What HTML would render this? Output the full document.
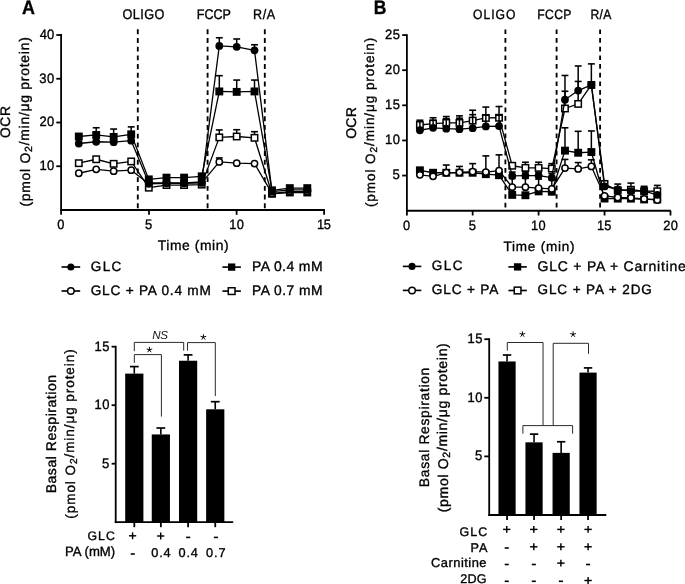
<!DOCTYPE html>
<html><head><meta charset="utf-8"><style>
html,body{margin:0;padding:0;background:#fff;overflow:hidden;}
svg{display:block;filter:grayscale(1);}
text{font-family:"Liberation Sans", sans-serif;text-rendering:geometricPrecision;}
</style></head><body>
<svg width="685" height="584" viewBox="0 0 685 584" font-family='"Liberation Sans", sans-serif' text-rendering="geometricPrecision">
<rect width="685" height="584" fill="#fff"/>
<g stroke="#000" fill="none">
<line x1="137.8" y1="29.3" x2="137.8" y2="209.1" stroke-width="1.85" stroke-dasharray="4.9 3.8"/>
<line x1="207.6" y1="29.3" x2="207.6" y2="209.1" stroke-width="1.85" stroke-dasharray="4.9 3.8"/>
<line x1="264.8" y1="29.3" x2="264.8" y2="209.1" stroke-width="1.85" stroke-dasharray="4.9 3.8"/>
<line x1="61.1" y1="34.1" x2="61.1" y2="214.8" stroke-width="1.8" />
<line x1="60.2" y1="210" x2="325" y2="210" stroke-width="1.8" />
<line x1="56.3" y1="166.25" x2="61.1" y2="166.25" stroke-width="1.8" />
<line x1="56.3" y1="122.5" x2="61.1" y2="122.5" stroke-width="1.8" />
<line x1="56.3" y1="78.75" x2="61.1" y2="78.75" stroke-width="1.8" />
<line x1="56.3" y1="35" x2="61.1" y2="35" stroke-width="1.8" />
<line x1="149" y1="210" x2="149" y2="214.8" stroke-width="1.8" />
<line x1="236.6" y1="210" x2="236.6" y2="214.8" stroke-width="1.8" />
<line x1="324.1" y1="210" x2="324.1" y2="214.8" stroke-width="1.8" />
</g>
<g stroke="#000">
<line x1="219.3" y1="137.38" x2="219.3" y2="129.94" stroke-width="1.5" />
<line x1="215.85" y1="129.94" x2="222.75" y2="129.94" stroke-width="1.6" />
<line x1="236.7" y1="136.5" x2="236.7" y2="129.72" stroke-width="1.5" />
<line x1="233.25" y1="129.72" x2="240.15" y2="129.72" stroke-width="1.6" />
<line x1="254.5" y1="137.81" x2="254.5" y2="131.69" stroke-width="1.5" />
<line x1="251.05" y1="131.69" x2="257.95" y2="131.69" stroke-width="1.6" />
<polyline points="78.8,163.19 96.2,159.25 113.65,163.8 131.2,161.44 148.8,187.69 166.5,185.06 184.1,185.06 201.7,184.62 219.3,137.38 236.7,136.5 254.5,137.81 272,193.81 289.8,192.5 307.3,192.5" fill="none" stroke="#000" stroke-width="1.3" stroke-linejoin="round"/>
<rect x="75.6" y="159.99" width="6.4" height="6.4" fill="#fff" stroke="#000" stroke-width="1.5"/>
<rect x="93" y="156.05" width="6.4" height="6.4" fill="#fff" stroke="#000" stroke-width="1.5"/>
<rect x="110.45" y="160.6" width="6.4" height="6.4" fill="#fff" stroke="#000" stroke-width="1.5"/>
<rect x="128" y="158.24" width="6.4" height="6.4" fill="#fff" stroke="#000" stroke-width="1.5"/>
<rect x="145.6" y="184.49" width="6.4" height="6.4" fill="#fff" stroke="#000" stroke-width="1.5"/>
<rect x="163.3" y="181.86" width="6.4" height="6.4" fill="#fff" stroke="#000" stroke-width="1.5"/>
<rect x="180.9" y="181.86" width="6.4" height="6.4" fill="#fff" stroke="#000" stroke-width="1.5"/>
<rect x="198.5" y="181.43" width="6.4" height="6.4" fill="#fff" stroke="#000" stroke-width="1.5"/>
<rect x="216.1" y="134.18" width="6.4" height="6.4" fill="#fff" stroke="#000" stroke-width="1.5"/>
<rect x="233.5" y="133.3" width="6.4" height="6.4" fill="#fff" stroke="#000" stroke-width="1.5"/>
<rect x="251.3" y="134.61" width="6.4" height="6.4" fill="#fff" stroke="#000" stroke-width="1.5"/>
<rect x="268.8" y="190.61" width="6.4" height="6.4" fill="#fff" stroke="#000" stroke-width="1.5"/>
<rect x="286.6" y="189.3" width="6.4" height="6.4" fill="#fff" stroke="#000" stroke-width="1.5"/>
<rect x="304.1" y="189.3" width="6.4" height="6.4" fill="#fff" stroke="#000" stroke-width="1.5"/>
<line x1="96.2" y1="134.97" x2="96.2" y2="127.75" stroke-width="1.5" />
<line x1="92.75" y1="127.75" x2="99.65" y2="127.75" stroke-width="1.6" />
<line x1="113.65" y1="136.94" x2="113.65" y2="129.06" stroke-width="1.5" />
<line x1="110.2" y1="129.06" x2="117.1" y2="129.06" stroke-width="1.6" />
<line x1="131.2" y1="134.31" x2="131.2" y2="126.88" stroke-width="1.5" />
<line x1="127.75" y1="126.88" x2="134.65" y2="126.88" stroke-width="1.6" />
<line x1="219.3" y1="91.44" x2="219.3" y2="75.69" stroke-width="1.5" />
<line x1="215.85" y1="75.69" x2="222.75" y2="75.69" stroke-width="1.6" />
<line x1="236.7" y1="91.88" x2="236.7" y2="80.06" stroke-width="1.5" />
<line x1="233.25" y1="80.06" x2="240.15" y2="80.06" stroke-width="1.6" />
<line x1="254.5" y1="91.44" x2="254.5" y2="80.06" stroke-width="1.5" />
<line x1="251.05" y1="80.06" x2="257.95" y2="80.06" stroke-width="1.6" />
<polyline points="78.8,136.5 96.2,134.97 113.65,136.94 131.2,134.31 148.8,179.38 166.5,177.62 184.1,177.62 201.7,176.31 219.3,91.44 236.7,91.88 254.5,91.44 272,190.31 289.8,188.12 307.3,188.12" fill="none" stroke="#000" stroke-width="1.3" stroke-linejoin="round"/>
<rect x="74.85" y="132.55" width="7.9" height="7.9" fill="#000" stroke="none"/>
<rect x="92.25" y="131.02" width="7.9" height="7.9" fill="#000" stroke="none"/>
<rect x="109.7" y="132.99" width="7.9" height="7.9" fill="#000" stroke="none"/>
<rect x="127.25" y="130.36" width="7.9" height="7.9" fill="#000" stroke="none"/>
<rect x="144.85" y="175.43" width="7.9" height="7.9" fill="#000" stroke="none"/>
<rect x="162.55" y="173.68" width="7.9" height="7.9" fill="#000" stroke="none"/>
<rect x="180.15" y="173.68" width="7.9" height="7.9" fill="#000" stroke="none"/>
<rect x="197.75" y="172.36" width="7.9" height="7.9" fill="#000" stroke="none"/>
<rect x="215.35" y="87.49" width="7.9" height="7.9" fill="#000" stroke="none"/>
<rect x="232.75" y="87.92" width="7.9" height="7.9" fill="#000" stroke="none"/>
<rect x="250.55" y="87.49" width="7.9" height="7.9" fill="#000" stroke="none"/>
<rect x="268.05" y="186.36" width="7.9" height="7.9" fill="#000" stroke="none"/>
<rect x="285.85" y="184.18" width="7.9" height="7.9" fill="#000" stroke="none"/>
<rect x="303.35" y="184.18" width="7.9" height="7.9" fill="#000" stroke="none"/>
<line x1="219.3" y1="161.88" x2="219.3" y2="157.94" stroke-width="1.5" />
<line x1="215.85" y1="157.94" x2="222.75" y2="157.94" stroke-width="1.6" />
<polyline points="78.8,173.25 96.2,169.31 113.65,171.19 131.2,170.19 148.8,183.75 166.5,183.31 184.1,183.31 201.7,182.88 219.3,161.88 236.7,163.19 254.5,163.62 272,193.38 289.8,191.62 307.3,191.62" fill="none" stroke="#000" stroke-width="1.3" stroke-linejoin="round"/>
<circle cx="78.8" cy="173.25" r="3.15" fill="#fff" stroke="#000" stroke-width="1.5"/>
<circle cx="96.2" cy="169.31" r="3.15" fill="#fff" stroke="#000" stroke-width="1.5"/>
<circle cx="113.65" cy="171.19" r="3.15" fill="#fff" stroke="#000" stroke-width="1.5"/>
<circle cx="131.2" cy="170.19" r="3.15" fill="#fff" stroke="#000" stroke-width="1.5"/>
<circle cx="148.8" cy="183.75" r="3.15" fill="#fff" stroke="#000" stroke-width="1.5"/>
<circle cx="166.5" cy="183.31" r="3.15" fill="#fff" stroke="#000" stroke-width="1.5"/>
<circle cx="184.1" cy="183.31" r="3.15" fill="#fff" stroke="#000" stroke-width="1.5"/>
<circle cx="201.7" cy="182.88" r="3.15" fill="#fff" stroke="#000" stroke-width="1.5"/>
<circle cx="219.3" cy="161.88" r="3.15" fill="#fff" stroke="#000" stroke-width="1.5"/>
<circle cx="236.7" cy="163.19" r="3.15" fill="#fff" stroke="#000" stroke-width="1.5"/>
<circle cx="254.5" cy="163.62" r="3.15" fill="#fff" stroke="#000" stroke-width="1.5"/>
<circle cx="272" cy="193.38" r="3.15" fill="#fff" stroke="#000" stroke-width="1.5"/>
<circle cx="289.8" cy="191.62" r="3.15" fill="#fff" stroke="#000" stroke-width="1.5"/>
<circle cx="307.3" cy="191.62" r="3.15" fill="#fff" stroke="#000" stroke-width="1.5"/>
<line x1="219.3" y1="45.94" x2="219.3" y2="37.76" stroke-width="1.5" />
<line x1="215.85" y1="37.76" x2="222.75" y2="37.76" stroke-width="1.6" />
<line x1="236.7" y1="46.81" x2="236.7" y2="38.98" stroke-width="1.5" />
<line x1="233.25" y1="38.98" x2="240.15" y2="38.98" stroke-width="1.6" />
<line x1="254.5" y1="50.31" x2="254.5" y2="44.76" stroke-width="1.5" />
<line x1="251.05" y1="44.76" x2="257.95" y2="44.76" stroke-width="1.6" />
<polyline points="78.8,143.5 96.2,141.75 113.65,142.19 131.2,140.66 148.8,182.88 166.5,182.88 184.1,182.88 201.7,182 219.3,45.94 236.7,46.81 254.5,50.31 272,191.62 289.8,189.88 307.3,189.88" fill="none" stroke="#000" stroke-width="1.3" stroke-linejoin="round"/>
<circle cx="78.8" cy="143.5" r="3.9" fill="#000" stroke="none"/>
<circle cx="96.2" cy="141.75" r="3.9" fill="#000" stroke="none"/>
<circle cx="113.65" cy="142.19" r="3.9" fill="#000" stroke="none"/>
<circle cx="131.2" cy="140.66" r="3.9" fill="#000" stroke="none"/>
<circle cx="148.8" cy="182.88" r="3.9" fill="#000" stroke="none"/>
<circle cx="166.5" cy="182.88" r="3.9" fill="#000" stroke="none"/>
<circle cx="184.1" cy="182.88" r="3.9" fill="#000" stroke="none"/>
<circle cx="201.7" cy="182" r="3.9" fill="#000" stroke="none"/>
<circle cx="219.3" cy="45.94" r="3.9" fill="#000" stroke="none"/>
<circle cx="236.7" cy="46.81" r="3.9" fill="#000" stroke="none"/>
<circle cx="254.5" cy="50.31" r="3.9" fill="#000" stroke="none"/>
<circle cx="272" cy="191.62" r="3.9" fill="#000" stroke="none"/>
<circle cx="289.8" cy="189.88" r="3.9" fill="#000" stroke="none"/>
<circle cx="307.3" cy="189.88" r="3.9" fill="#000" stroke="none"/>
</g>
<g fill="#000" stroke="#000" stroke-width="0.35">
<text x="22.00" y="13.62" font-size="19.50" textLength="12.95" lengthAdjust="spacingAndGlyphs" font-weight="bold" >A</text>
<text transform="translate(122.57,18.68) scale(0.900,1)" font-size="14.10" textLength="46.41" lengthAdjust="spacing" >OLIGO</text>
<text transform="translate(196.80,18.69) scale(0.900,1)" font-size="13.96" textLength="37.98" lengthAdjust="spacing" >FCCP</text>
<text transform="translate(253.10,18.69) scale(0.900,1)" font-size="13.96" textLength="24.46" lengthAdjust="spacing" >R/A</text>
<text x="157.80" y="249.92" font-size="13.83" textLength="70.78" lengthAdjust="spacing" >Time (min)</text>
<text transform="translate(10.34,138.08) rotate(-90)" font-size="13.81" textLength="32.05" lengthAdjust="spacing" >OCR</text>
<text transform="translate(29.65,206.58) rotate(-90)" font-size="13.95" textLength="169.39" lengthAdjust="spacing" >(pmol O<tspan font-size="75%" dy="0.22em">2</tspan><tspan dy="-0.22em">/min/μg protein)</tspan></text>
<text transform="translate(39.51,170.04) scale(0.950,1)" font-size="13.66" textLength="15.62" lengthAdjust="spacing" >10</text>
<text transform="translate(39.46,126.29) scale(0.950,1)" font-size="13.66" textLength="15.67" lengthAdjust="spacing" >20</text>
<text transform="translate(39.33,82.54) scale(0.950,1)" font-size="13.66" textLength="15.81" lengthAdjust="spacing" >30</text>
<text transform="translate(39.72,38.79) scale(0.950,1)" font-size="13.66" textLength="15.40" lengthAdjust="spacing" >40</text>
<text transform="translate(57.36,228.69) scale(0.950,1)" font-size="13.51" textLength="7.87" lengthAdjust="spacing" >0</text>
<text transform="translate(144.99,228.69) scale(0.950,1)" font-size="13.71" textLength="8.16" lengthAdjust="spacing" >5</text>
<text transform="translate(229.32,228.69) scale(0.950,1)" font-size="13.51" textLength="15.28" lengthAdjust="spacing" >10</text>
<text transform="translate(316.92,228.69) scale(0.950,1)" font-size="13.51" textLength="14.76" lengthAdjust="spacing" >15</text>
</g>
<g stroke="#000">
<line x1="61.5" y1="267" x2="80.2" y2="267" stroke-width="1.65" />
<circle cx="70.85" cy="267" r="3.55" fill="#000" stroke="none"/>
</g>
<g stroke="#000">
<line x1="61.5" y1="291" x2="80.2" y2="291" stroke-width="1.65" />
<circle cx="70.85" cy="291" r="3.25" fill="#fff" stroke="#000" stroke-width="1.5"/>
</g>
<g stroke="#000">
<line x1="222.4" y1="267.1" x2="240.9" y2="267.1" stroke-width="1.65" />
<rect x="228" y="263.45" width="7.3" height="7.3" fill="#000" stroke="none"/>
</g>
<g stroke="#000">
<line x1="222.4" y1="291.1" x2="240.9" y2="291.1" stroke-width="1.65" />
<rect x="228.3" y="287.75" width="6.7" height="6.7" fill="#fff" stroke="#000" stroke-width="1.5"/>
</g>
<g fill="#000" stroke="#000" stroke-width="0.35">
<text x="90.73" y="270.89" font-size="13.51" textLength="30.60" lengthAdjust="spacing" >GLC</text>
<text x="90.73" y="294.89" font-size="13.66" textLength="120.14" lengthAdjust="spacing" >GLC + PA 0.4 mM</text>
<text x="251.96" y="271.09" font-size="13.96" textLength="70.57" lengthAdjust="spacing" >PA 0.4 mM</text>
<text x="251.96" y="294.59" font-size="13.81" textLength="70.56" lengthAdjust="spacing" >PA 0.7 mM</text>
</g>
<g stroke="#000" fill="none">
<line x1="505.4" y1="29.4" x2="505.4" y2="209.8" stroke-width="1.85" stroke-dasharray="4.7 3.97"/>
<line x1="556.6" y1="29.4" x2="556.6" y2="209.8" stroke-width="1.85" stroke-dasharray="4.7 3.97"/>
<line x1="600.1" y1="29.4" x2="600.1" y2="209.8" stroke-width="1.85" stroke-dasharray="4.7 3.97"/>
<line x1="406.9" y1="34.17" x2="406.9" y2="215.5" stroke-width="1.8" />
<line x1="406" y1="210.75" x2="670.8" y2="210.75" stroke-width="1.8" />
<line x1="402.2" y1="175.57" x2="406.9" y2="175.57" stroke-width="1.8" />
<line x1="402.2" y1="140.45" x2="406.9" y2="140.45" stroke-width="1.8" />
<line x1="402.2" y1="105.32" x2="406.9" y2="105.32" stroke-width="1.8" />
<line x1="402.2" y1="70.2" x2="406.9" y2="70.2" stroke-width="1.8" />
<line x1="402.2" y1="35.07" x2="406.9" y2="35.07" stroke-width="1.8" />
<line x1="472.65" y1="210.75" x2="472.65" y2="215.5" stroke-width="1.8" />
<line x1="538.6" y1="210.75" x2="538.6" y2="215.5" stroke-width="1.8" />
<line x1="604.55" y1="210.75" x2="604.55" y2="215.5" stroke-width="1.8" />
<line x1="670.5" y1="210.75" x2="670.5" y2="215.5" stroke-width="1.8" />
</g>
<g stroke="#000">
<line x1="433.08" y1="123.59" x2="433.08" y2="117.76" stroke-width="1.5" />
<line x1="429.63" y1="117.76" x2="436.53" y2="117.76" stroke-width="1.6" />
<line x1="446.27" y1="122.89" x2="446.27" y2="116.56" stroke-width="1.5" />
<line x1="442.82" y1="116.56" x2="449.72" y2="116.56" stroke-width="1.6" />
<line x1="459.46" y1="122.89" x2="459.46" y2="115.86" stroke-width="1.5" />
<line x1="456.01" y1="115.86" x2="462.91" y2="115.86" stroke-width="1.6" />
<line x1="472.65" y1="120.57" x2="472.65" y2="110.24" stroke-width="1.5" />
<line x1="469.2" y1="110.24" x2="476.1" y2="110.24" stroke-width="1.6" />
<line x1="485.84" y1="117.97" x2="485.84" y2="107.08" stroke-width="1.5" />
<line x1="482.39" y1="107.08" x2="489.29" y2="107.08" stroke-width="1.6" />
<line x1="499.03" y1="117.76" x2="499.03" y2="106.52" stroke-width="1.5" />
<line x1="495.58" y1="106.52" x2="502.48" y2="106.52" stroke-width="1.6" />
<line x1="525.41" y1="167.85" x2="525.41" y2="162.23" stroke-width="1.5" />
<line x1="521.96" y1="162.23" x2="528.86" y2="162.23" stroke-width="1.6" />
<line x1="538.6" y1="167.85" x2="538.6" y2="162.23" stroke-width="1.5" />
<line x1="535.15" y1="162.23" x2="542.05" y2="162.23" stroke-width="1.6" />
<line x1="551.79" y1="168.55" x2="551.79" y2="163.63" stroke-width="1.5" />
<line x1="548.34" y1="163.63" x2="555.24" y2="163.63" stroke-width="1.6" />
<line x1="564.98" y1="108.49" x2="564.98" y2="91.27" stroke-width="1.5" />
<line x1="561.53" y1="91.27" x2="568.43" y2="91.27" stroke-width="1.6" />
<line x1="578.17" y1="103.92" x2="578.17" y2="81.44" stroke-width="1.5" />
<line x1="574.72" y1="81.44" x2="581.62" y2="81.44" stroke-width="1.6" />
<line x1="604.55" y1="184" x2="604.55" y2="180.7" stroke-width="1.5" />
<line x1="601.1" y1="180.7" x2="608" y2="180.7" stroke-width="1.6" />
<line x1="617.74" y1="190.33" x2="617.74" y2="184.08" stroke-width="1.5" />
<line x1="614.29" y1="184.08" x2="621.19" y2="184.08" stroke-width="1.6" />
<line x1="630.93" y1="189.77" x2="630.93" y2="183.09" stroke-width="1.5" />
<line x1="627.48" y1="183.09" x2="634.38" y2="183.09" stroke-width="1.6" />
<line x1="644.12" y1="191.03" x2="644.12" y2="186.32" stroke-width="1.5" />
<line x1="640.67" y1="186.32" x2="647.57" y2="186.32" stroke-width="1.6" />
<line x1="657.31" y1="191.24" x2="657.31" y2="185.41" stroke-width="1.5" />
<line x1="653.86" y1="185.41" x2="660.76" y2="185.41" stroke-width="1.6" />
<polyline points="419.89,124.99 433.08,123.59 446.27,122.89 459.46,122.89 472.65,120.57 485.84,117.97 499.03,117.76 512.22,165.74 525.41,167.85 538.6,167.85 551.79,168.55 564.98,108.49 578.17,103.92 591.36,84.95 604.55,184 617.74,190.33 630.93,189.77 644.12,191.03 657.31,191.24" fill="none" stroke="#000" stroke-width="1.3" stroke-linejoin="round"/>
<rect x="416.69" y="121.79" width="6.4" height="6.4" fill="#fff" stroke="#000" stroke-width="1.5"/>
<rect x="429.88" y="120.39" width="6.4" height="6.4" fill="#fff" stroke="#000" stroke-width="1.5"/>
<rect x="443.07" y="119.69" width="6.4" height="6.4" fill="#fff" stroke="#000" stroke-width="1.5"/>
<rect x="456.26" y="119.69" width="6.4" height="6.4" fill="#fff" stroke="#000" stroke-width="1.5"/>
<rect x="469.45" y="117.37" width="6.4" height="6.4" fill="#fff" stroke="#000" stroke-width="1.5"/>
<rect x="482.64" y="114.77" width="6.4" height="6.4" fill="#fff" stroke="#000" stroke-width="1.5"/>
<rect x="495.83" y="114.56" width="6.4" height="6.4" fill="#fff" stroke="#000" stroke-width="1.5"/>
<rect x="509.02" y="162.54" width="6.4" height="6.4" fill="#fff" stroke="#000" stroke-width="1.5"/>
<rect x="522.21" y="164.65" width="6.4" height="6.4" fill="#fff" stroke="#000" stroke-width="1.5"/>
<rect x="535.4" y="164.65" width="6.4" height="6.4" fill="#fff" stroke="#000" stroke-width="1.5"/>
<rect x="548.59" y="165.35" width="6.4" height="6.4" fill="#fff" stroke="#000" stroke-width="1.5"/>
<rect x="561.78" y="105.29" width="6.4" height="6.4" fill="#fff" stroke="#000" stroke-width="1.5"/>
<rect x="574.97" y="100.72" width="6.4" height="6.4" fill="#fff" stroke="#000" stroke-width="1.5"/>
<rect x="588.16" y="81.75" width="6.4" height="6.4" fill="#fff" stroke="#000" stroke-width="1.5"/>
<rect x="601.35" y="180.81" width="6.4" height="6.4" fill="#fff" stroke="#000" stroke-width="1.5"/>
<rect x="614.54" y="187.13" width="6.4" height="6.4" fill="#fff" stroke="#000" stroke-width="1.5"/>
<rect x="627.73" y="186.57" width="6.4" height="6.4" fill="#fff" stroke="#000" stroke-width="1.5"/>
<rect x="640.92" y="187.83" width="6.4" height="6.4" fill="#fff" stroke="#000" stroke-width="1.5"/>
<rect x="654.11" y="188.04" width="6.4" height="6.4" fill="#fff" stroke="#000" stroke-width="1.5"/>
<line x1="564.98" y1="150.64" x2="564.98" y2="127.8" stroke-width="1.5" />
<line x1="561.53" y1="127.8" x2="568.43" y2="127.8" stroke-width="1.6" />
<line x1="578.17" y1="152.74" x2="578.17" y2="131.32" stroke-width="1.5" />
<line x1="574.72" y1="131.32" x2="581.62" y2="131.32" stroke-width="1.6" />
<line x1="591.36" y1="152.04" x2="591.36" y2="130.97" stroke-width="1.5" />
<line x1="587.91" y1="130.97" x2="594.81" y2="130.97" stroke-width="1.6" />
<polyline points="419.89,170.31 433.08,172.76 446.27,172.76 459.46,172.76 472.65,172.76 485.84,174.17 499.03,175.22 512.22,194.89 525.41,195.24 538.6,191.38 551.79,191.73 564.98,150.64 578.17,152.74 591.36,152.04 604.55,198.55 617.74,198.62 630.93,198.62 644.12,199.46 657.31,199.46" fill="none" stroke="#000" stroke-width="1.3" stroke-linejoin="round"/>
<rect x="415.94" y="166.36" width="7.9" height="7.9" fill="#000" stroke="none"/>
<rect x="429.13" y="168.81" width="7.9" height="7.9" fill="#000" stroke="none"/>
<rect x="442.32" y="168.81" width="7.9" height="7.9" fill="#000" stroke="none"/>
<rect x="455.51" y="168.81" width="7.9" height="7.9" fill="#000" stroke="none"/>
<rect x="468.7" y="168.81" width="7.9" height="7.9" fill="#000" stroke="none"/>
<rect x="481.89" y="170.22" width="7.9" height="7.9" fill="#000" stroke="none"/>
<rect x="495.08" y="171.27" width="7.9" height="7.9" fill="#000" stroke="none"/>
<rect x="508.27" y="190.94" width="7.9" height="7.9" fill="#000" stroke="none"/>
<rect x="521.46" y="191.29" width="7.9" height="7.9" fill="#000" stroke="none"/>
<rect x="534.65" y="187.43" width="7.9" height="7.9" fill="#000" stroke="none"/>
<rect x="547.84" y="187.78" width="7.9" height="7.9" fill="#000" stroke="none"/>
<rect x="561.03" y="146.69" width="7.9" height="7.9" fill="#000" stroke="none"/>
<rect x="574.22" y="148.79" width="7.9" height="7.9" fill="#000" stroke="none"/>
<rect x="587.41" y="148.09" width="7.9" height="7.9" fill="#000" stroke="none"/>
<rect x="600.6" y="194.6" width="7.9" height="7.9" fill="#000" stroke="none"/>
<rect x="613.79" y="194.67" width="7.9" height="7.9" fill="#000" stroke="none"/>
<rect x="626.98" y="194.67" width="7.9" height="7.9" fill="#000" stroke="none"/>
<rect x="640.17" y="195.51" width="7.9" height="7.9" fill="#000" stroke="none"/>
<rect x="653.36" y="195.51" width="7.9" height="7.9" fill="#000" stroke="none"/>
<line x1="446.27" y1="172.76" x2="446.27" y2="165.04" stroke-width="1.5" />
<line x1="442.82" y1="165.04" x2="449.72" y2="165.04" stroke-width="1.6" />
<line x1="459.46" y1="172.41" x2="459.46" y2="166.44" stroke-width="1.5" />
<line x1="456.01" y1="166.44" x2="462.91" y2="166.44" stroke-width="1.6" />
<line x1="472.65" y1="171.71" x2="472.65" y2="163.63" stroke-width="1.5" />
<line x1="469.2" y1="163.63" x2="476.1" y2="163.63" stroke-width="1.6" />
<line x1="485.84" y1="172.06" x2="485.84" y2="155.9" stroke-width="1.5" />
<line x1="482.39" y1="155.9" x2="489.29" y2="155.9" stroke-width="1.6" />
<line x1="499.03" y1="170.66" x2="499.03" y2="154.85" stroke-width="1.5" />
<line x1="495.58" y1="154.85" x2="502.48" y2="154.85" stroke-width="1.6" />
<line x1="512.22" y1="187.17" x2="512.22" y2="178.38" stroke-width="1.5" />
<line x1="508.77" y1="178.38" x2="515.67" y2="178.38" stroke-width="1.6" />
<line x1="525.41" y1="187.17" x2="525.41" y2="178.38" stroke-width="1.5" />
<line x1="521.96" y1="178.38" x2="528.86" y2="178.38" stroke-width="1.6" />
<line x1="538.6" y1="188.22" x2="538.6" y2="179.09" stroke-width="1.5" />
<line x1="535.15" y1="179.09" x2="542.05" y2="179.09" stroke-width="1.6" />
<line x1="551.79" y1="188.92" x2="551.79" y2="179.79" stroke-width="1.5" />
<line x1="548.34" y1="179.79" x2="555.24" y2="179.79" stroke-width="1.6" />
<line x1="564.98" y1="168.06" x2="564.98" y2="159.42" stroke-width="1.5" />
<line x1="561.53" y1="159.42" x2="568.43" y2="159.42" stroke-width="1.6" />
<line x1="578.17" y1="168.9" x2="578.17" y2="162.58" stroke-width="1.5" />
<line x1="574.72" y1="162.58" x2="581.62" y2="162.58" stroke-width="1.6" />
<line x1="591.36" y1="166.44" x2="591.36" y2="159.84" stroke-width="1.5" />
<line x1="587.91" y1="159.84" x2="594.81" y2="159.84" stroke-width="1.6" />
<polyline points="419.89,174.87 433.08,176.28 446.27,172.76 459.46,172.41 472.65,171.71 485.84,172.06 499.03,170.66 512.22,187.17 525.41,187.17 538.6,188.22 551.79,188.92 564.98,168.06 578.17,168.9 591.36,166.44 604.55,195.95 617.74,197.49 630.93,197.84 644.12,198.9 657.31,200.02" fill="none" stroke="#000" stroke-width="1.3" stroke-linejoin="round"/>
<circle cx="419.89" cy="174.87" r="3.15" fill="#fff" stroke="#000" stroke-width="1.5"/>
<circle cx="433.08" cy="176.28" r="3.15" fill="#fff" stroke="#000" stroke-width="1.5"/>
<circle cx="446.27" cy="172.76" r="3.15" fill="#fff" stroke="#000" stroke-width="1.5"/>
<circle cx="459.46" cy="172.41" r="3.15" fill="#fff" stroke="#000" stroke-width="1.5"/>
<circle cx="472.65" cy="171.71" r="3.15" fill="#fff" stroke="#000" stroke-width="1.5"/>
<circle cx="485.84" cy="172.06" r="3.15" fill="#fff" stroke="#000" stroke-width="1.5"/>
<circle cx="499.03" cy="170.66" r="3.15" fill="#fff" stroke="#000" stroke-width="1.5"/>
<circle cx="512.22" cy="187.17" r="3.15" fill="#fff" stroke="#000" stroke-width="1.5"/>
<circle cx="525.41" cy="187.17" r="3.15" fill="#fff" stroke="#000" stroke-width="1.5"/>
<circle cx="538.6" cy="188.22" r="3.15" fill="#fff" stroke="#000" stroke-width="1.5"/>
<circle cx="551.79" cy="188.92" r="3.15" fill="#fff" stroke="#000" stroke-width="1.5"/>
<circle cx="564.98" cy="168.06" r="3.15" fill="#fff" stroke="#000" stroke-width="1.5"/>
<circle cx="578.17" cy="168.9" r="3.15" fill="#fff" stroke="#000" stroke-width="1.5"/>
<circle cx="591.36" cy="166.44" r="3.15" fill="#fff" stroke="#000" stroke-width="1.5"/>
<circle cx="604.55" cy="195.95" r="3.15" fill="#fff" stroke="#000" stroke-width="1.5"/>
<circle cx="617.74" cy="197.49" r="3.15" fill="#fff" stroke="#000" stroke-width="1.5"/>
<circle cx="630.93" cy="197.84" r="3.15" fill="#fff" stroke="#000" stroke-width="1.5"/>
<circle cx="644.12" cy="198.9" r="3.15" fill="#fff" stroke="#000" stroke-width="1.5"/>
<circle cx="657.31" cy="200.02" r="3.15" fill="#fff" stroke="#000" stroke-width="1.5"/>
<line x1="419.89" y1="130.26" x2="419.89" y2="120.22" stroke-width="1.5" />
<line x1="416.44" y1="120.22" x2="423.34" y2="120.22" stroke-width="1.6" />
<line x1="433.08" y1="127.8" x2="433.08" y2="120.22" stroke-width="1.5" />
<line x1="429.63" y1="120.22" x2="436.53" y2="120.22" stroke-width="1.6" />
<line x1="446.27" y1="128.72" x2="446.27" y2="118.67" stroke-width="1.5" />
<line x1="442.82" y1="118.67" x2="449.72" y2="118.67" stroke-width="1.6" />
<line x1="459.46" y1="129.21" x2="459.46" y2="118.18" stroke-width="1.5" />
<line x1="456.01" y1="118.18" x2="462.91" y2="118.18" stroke-width="1.6" />
<line x1="472.65" y1="128.16" x2="472.65" y2="114.67" stroke-width="1.5" />
<line x1="469.2" y1="114.67" x2="476.1" y2="114.67" stroke-width="1.6" />
<line x1="485.84" y1="126.4" x2="485.84" y2="115.16" stroke-width="1.5" />
<line x1="482.39" y1="115.16" x2="489.29" y2="115.16" stroke-width="1.6" />
<line x1="499.03" y1="126.12" x2="499.03" y2="115.16" stroke-width="1.5" />
<line x1="495.58" y1="115.16" x2="502.48" y2="115.16" stroke-width="1.6" />
<line x1="512.22" y1="175.93" x2="512.22" y2="172.06" stroke-width="1.5" />
<line x1="508.77" y1="172.06" x2="515.67" y2="172.06" stroke-width="1.6" />
<line x1="525.41" y1="175.57" x2="525.41" y2="172.06" stroke-width="1.5" />
<line x1="521.96" y1="172.06" x2="528.86" y2="172.06" stroke-width="1.6" />
<line x1="538.6" y1="175.57" x2="538.6" y2="172.41" stroke-width="1.5" />
<line x1="535.15" y1="172.41" x2="542.05" y2="172.41" stroke-width="1.6" />
<line x1="551.79" y1="177.68" x2="551.79" y2="173.47" stroke-width="1.5" />
<line x1="548.34" y1="173.47" x2="555.24" y2="173.47" stroke-width="1.6" />
<line x1="564.98" y1="99.7" x2="564.98" y2="75.47" stroke-width="1.5" />
<line x1="561.53" y1="75.47" x2="568.43" y2="75.47" stroke-width="1.6" />
<line x1="578.17" y1="90.57" x2="578.17" y2="65.98" stroke-width="1.5" />
<line x1="574.72" y1="65.98" x2="581.62" y2="65.98" stroke-width="1.6" />
<line x1="591.36" y1="84.95" x2="591.36" y2="63.88" stroke-width="1.5" />
<line x1="587.91" y1="63.88" x2="594.81" y2="63.88" stroke-width="1.6" />
<polyline points="419.89,130.26 433.08,127.8 446.27,128.72 459.46,129.21 472.65,128.16 485.84,126.4 499.03,126.12 512.22,175.93 525.41,175.57 538.6,175.57 551.79,177.68 564.98,99.7 578.17,90.57 591.36,84.95 604.55,186.46 617.74,189.41 630.93,191.03 644.12,191.03 657.31,194.82" fill="none" stroke="#000" stroke-width="1.3" stroke-linejoin="round"/>
<circle cx="419.89" cy="130.26" r="3.9" fill="#000" stroke="none"/>
<circle cx="433.08" cy="127.8" r="3.9" fill="#000" stroke="none"/>
<circle cx="446.27" cy="128.72" r="3.9" fill="#000" stroke="none"/>
<circle cx="459.46" cy="129.21" r="3.9" fill="#000" stroke="none"/>
<circle cx="472.65" cy="128.16" r="3.9" fill="#000" stroke="none"/>
<circle cx="485.84" cy="126.4" r="3.9" fill="#000" stroke="none"/>
<circle cx="499.03" cy="126.12" r="3.9" fill="#000" stroke="none"/>
<circle cx="512.22" cy="175.93" r="3.9" fill="#000" stroke="none"/>
<circle cx="525.41" cy="175.57" r="3.9" fill="#000" stroke="none"/>
<circle cx="538.6" cy="175.57" r="3.9" fill="#000" stroke="none"/>
<circle cx="551.79" cy="177.68" r="3.9" fill="#000" stroke="none"/>
<circle cx="564.98" cy="99.7" r="3.9" fill="#000" stroke="none"/>
<circle cx="578.17" cy="90.57" r="3.9" fill="#000" stroke="none"/>
<circle cx="591.36" cy="84.95" r="3.9" fill="#000" stroke="none"/>
<circle cx="604.55" cy="186.46" r="3.9" fill="#000" stroke="none"/>
<circle cx="617.74" cy="189.41" r="3.9" fill="#000" stroke="none"/>
<circle cx="630.93" cy="191.03" r="3.9" fill="#000" stroke="none"/>
<circle cx="644.12" cy="191.03" r="3.9" fill="#000" stroke="none"/>
<circle cx="657.31" cy="194.82" r="3.9" fill="#000" stroke="none"/>
</g>
<g fill="#000" stroke="#000" stroke-width="0.35">
<text x="373.80" y="13.82" font-size="19.50" textLength="12.64" lengthAdjust="spacingAndGlyphs" font-weight="bold" >B</text>
<text transform="translate(473.09,18.99) scale(0.900,1)" font-size="13.51" textLength="47.03" lengthAdjust="spacing" >OLIGO</text>
<text transform="translate(537.21,18.99) scale(0.900,1)" font-size="13.51" textLength="38.06" lengthAdjust="spacing" >FCCP</text>
<text transform="translate(590.41,18.99) scale(0.900,1)" font-size="13.51" textLength="23.22" lengthAdjust="spacing" >R/A</text>
<text x="503.41" y="250.59" font-size="13.50" textLength="71.15" lengthAdjust="spacing" >Time (min)</text>
<text transform="translate(355.83,138.69) rotate(-90)" font-size="14.10" textLength="31.56" lengthAdjust="spacing" >OCR</text>
<text transform="translate(375.03,207.07) rotate(-90)" font-size="13.53" textLength="169.35" lengthAdjust="spacing" >(pmol O<tspan font-size="75%" dy="0.22em">2</tspan><tspan dy="-0.22em">/min/μg protein)</tspan></text>
<text transform="translate(392.38,179.36) scale(0.950,1)" font-size="13.86" textLength="7.97" lengthAdjust="spacing" >5</text>
<text transform="translate(385.11,144.24) scale(0.950,1)" font-size="13.66" textLength="15.62" lengthAdjust="spacing" >10</text>
<text transform="translate(385.11,109.11) scale(0.950,1)" font-size="13.66" textLength="15.62" lengthAdjust="spacing" >15</text>
<text transform="translate(385.06,73.99) scale(0.950,1)" font-size="13.66" textLength="15.67" lengthAdjust="spacing" >20</text>
<text transform="translate(385.06,38.86) scale(0.950,1)" font-size="13.66" textLength="15.67" lengthAdjust="spacing" >25</text>
<text transform="translate(402.96,229.89) scale(0.950,1)" font-size="13.51" textLength="7.87" lengthAdjust="spacing" >0</text>
<text transform="translate(468.64,229.89) scale(0.950,1)" font-size="13.71" textLength="8.16" lengthAdjust="spacing" >5</text>
<text transform="translate(531.02,229.89) scale(0.950,1)" font-size="13.51" textLength="15.28" lengthAdjust="spacing" >10</text>
<text transform="translate(596.97,229.89) scale(0.950,1)" font-size="13.51" textLength="15.28" lengthAdjust="spacing" >15</text>
<text transform="translate(663.16,229.89) scale(0.950,1)" font-size="13.51" textLength="15.45" lengthAdjust="spacing" >20</text>
</g>
<g stroke="#000">
<line x1="402.8" y1="266.4" x2="421.3" y2="266.4" stroke-width="1.65" />
<circle cx="412.05" cy="266.4" r="3.55" fill="#000" stroke="none"/>
</g>
<g stroke="#000">
<line x1="402.8" y1="290.4" x2="421.3" y2="290.4" stroke-width="1.65" />
<circle cx="412.05" cy="290.4" r="3.25" fill="#fff" stroke="#000" stroke-width="1.5"/>
</g>
<g stroke="#000">
<line x1="508.4" y1="266.9" x2="526.8" y2="266.9" stroke-width="1.65" />
<rect x="513.95" y="263.25" width="7.3" height="7.3" fill="#000" stroke="none"/>
</g>
<g stroke="#000">
<line x1="508.4" y1="290.5" x2="526.8" y2="290.5" stroke-width="1.65" />
<rect x="514.25" y="287.15" width="6.7" height="6.7" fill="#fff" stroke="#000" stroke-width="1.5"/>
</g>
<g fill="#000" stroke="#000" stroke-width="0.35">
<text x="431.83" y="270.49" font-size="13.51" textLength="30.60" lengthAdjust="spacing" >GLC</text>
<text x="431.83" y="294.09" font-size="13.66" textLength="66.54" lengthAdjust="spacing" >GLC + PA</text>
<text x="537.52" y="270.99" font-size="13.96" textLength="148.33" lengthAdjust="spacing" >GLC + PA + Carnitine</text>
<text x="537.53" y="294.29" font-size="13.51" textLength="114.25" lengthAdjust="spacing" >GLC + PA + 2DG</text>
</g>
<g stroke="#000" fill="none">
<line x1="115.7" y1="345.8" x2="115.7" y2="523.1" stroke-width="1.8" />
<line x1="114.8" y1="522.2" x2="233.2" y2="522.2" stroke-width="1.8" />
<line x1="111.6" y1="463.7" x2="115.7" y2="463.7" stroke-width="1.8" />
<line x1="111.6" y1="405.2" x2="115.7" y2="405.2" stroke-width="1.8" />
<line x1="111.6" y1="346.7" x2="115.7" y2="346.7" stroke-width="1.8" />
<line x1="134.3" y1="522.2" x2="134.3" y2="527.2" stroke-width="1.8" />
<line x1="160.85" y1="522.2" x2="160.85" y2="527.2" stroke-width="1.8" />
<line x1="188.1" y1="522.2" x2="188.1" y2="527.2" stroke-width="1.8" />
<line x1="215.25" y1="522.2" x2="215.25" y2="527.2" stroke-width="1.8" />
</g>
<g fill="#000" stroke="none">
<rect x="125.2" y="373.61" width="18.2" height="148.59"/>
<rect x="151.75" y="434.45" width="18.2" height="87.75"/>
<rect x="179" y="360.74" width="18.2" height="161.46"/>
<rect x="206.15" y="409.3" width="18.2" height="112.9"/>
</g>
<g stroke="#000" fill="none">
<line x1="134.3" y1="373.61" x2="134.3" y2="366.59" stroke-width="1.6" />
<line x1="129.9" y1="366.59" x2="138.7" y2="366.59" stroke-width="1.7" />
<line x1="160.85" y1="434.45" x2="160.85" y2="428.02" stroke-width="1.6" />
<line x1="156.45" y1="428.02" x2="165.25" y2="428.02" stroke-width="1.7" />
<line x1="188.1" y1="360.74" x2="188.1" y2="354.89" stroke-width="1.6" />
<line x1="183.7" y1="354.89" x2="192.5" y2="354.89" stroke-width="1.7" />
<line x1="215.25" y1="409.3" x2="215.25" y2="401.69" stroke-width="1.6" />
<line x1="210.85" y1="401.69" x2="219.65" y2="401.69" stroke-width="1.7" />
<polyline points="134.3,351.2 134.3,342.4 183.7,342.4 183.7,350.7" stroke="#2a2a2a" stroke-width="1"/>
<polyline points="134.3,362.9 134.3,354.6 161.4,354.6 161.4,416.6" stroke="#2a2a2a" stroke-width="1"/>
<polyline points="187.5,350.7 187.5,342.6 215.3,342.6 215.3,396.1" stroke="#2a2a2a" stroke-width="1"/>
<line x1="129" y1="535.8" x2="136.2" y2="535.8" stroke-width="1.45" />
<line x1="132.6" y1="532.35" x2="132.6" y2="539.25" stroke-width="1.45" />
<line x1="157.15" y1="536" x2="164.35" y2="536" stroke-width="1.45" />
<line x1="160.75" y1="532.55" x2="160.75" y2="539.45" stroke-width="1.45" />
<line x1="186.15" y1="537.4" x2="190.25" y2="537.4" stroke-width="1.6" />
<line x1="213.85" y1="537.4" x2="217.95" y2="537.4" stroke-width="1.6" />
<line x1="130.7" y1="554" x2="134.8" y2="554" stroke-width="1.6" />
</g>
<text x="152.29" y="338.71" font-size="11.57" textLength="15.73" lengthAdjust="spacing" font-style="italic" stroke="none" fill="#111">NS</text>
<path d="M149.4,349.8L149.4,347.2M149.4,349.8L151.87,349M149.4,349.8L150.93,351.9M149.4,349.8L147.87,351.9M149.4,349.8L146.93,349" stroke="#000" stroke-width="0.95" stroke-linecap="round" fill="none"/>
<circle cx="149.4" cy="349.8" r="0.75" fill="#000"/>
<path d="M203.4,337.2L203.4,334.6M203.4,337.2L205.87,336.4M203.4,337.2L204.93,339.3M203.4,337.2L201.87,339.3M203.4,337.2L200.93,336.4" stroke="#000" stroke-width="0.95" stroke-linecap="round" fill="none"/>
<circle cx="203.4" cy="337.2" r="0.75" fill="#000"/>
<g fill="#000" stroke="#000" stroke-width="0.35">
<text transform="translate(101.88,467.59) scale(0.950,1)" font-size="13.86" textLength="7.97" lengthAdjust="spacing" >5</text>
<text transform="translate(94.61,409.09) scale(0.950,1)" font-size="13.66" textLength="15.62" lengthAdjust="spacing" >10</text>
<text transform="translate(94.61,350.59) scale(0.950,1)" font-size="13.66" textLength="15.62" lengthAdjust="spacing" >15</text>
<text transform="translate(55.72,493.35) rotate(-90)" font-size="14.06" textLength="118.44" lengthAdjust="spacing" >Basal Respiration</text>
<text transform="translate(75.03,518.67) rotate(-90)" font-size="13.53" textLength="169.35" lengthAdjust="spacing" >(pmol O<tspan font-size="75%" dy="0.22em">2</tspan><tspan dy="-0.22em">/min/μg protein)</tspan></text>
<text x="87.48" y="539.70" font-size="12.31" textLength="27.38" lengthAdjust="spacing" >GLC</text>
<text x="65.07" y="555.87" font-size="13.61" textLength="50.05" lengthAdjust="spacingAndGlyphs" >PA (mM)</text>
<text x="151.26" y="556.90" font-size="12.76" textLength="19.32" lengthAdjust="spacing" >0.4</text>
<text x="178.46" y="556.90" font-size="12.76" textLength="19.42" lengthAdjust="spacing" >0.4</text>
<text x="206.06" y="556.90" font-size="12.76" textLength="19.54" lengthAdjust="spacing" >0.7</text>
</g>
<g stroke="#000" fill="none">
<line x1="489.2" y1="338.3" x2="489.2" y2="515.9" stroke-width="1.8" />
<line x1="488.3" y1="515" x2="606.3" y2="515" stroke-width="1.8" />
<line x1="484.3" y1="456.4" x2="489.2" y2="456.4" stroke-width="1.8" />
<line x1="484.3" y1="397.8" x2="489.2" y2="397.8" stroke-width="1.8" />
<line x1="484.3" y1="339.2" x2="489.2" y2="339.2" stroke-width="1.8" />
<line x1="507.05" y1="515" x2="507.05" y2="520" stroke-width="1.8" />
<line x1="534.05" y1="515" x2="534.05" y2="520" stroke-width="1.8" />
<line x1="561.15" y1="515" x2="561.15" y2="520" stroke-width="1.8" />
<line x1="588.05" y1="515" x2="588.05" y2="520" stroke-width="1.8" />
</g>
<g fill="#000" stroke="none">
<rect x="498.45" y="361.47" width="17.2" height="153.53"/>
<rect x="525.45" y="442.34" width="17.2" height="72.66"/>
<rect x="552.55" y="452.88" width="17.2" height="62.12"/>
<rect x="579.45" y="372.6" width="17.2" height="142.4"/>
</g>
<g stroke="#000" fill="none">
<line x1="507.05" y1="361.47" x2="507.05" y2="355.02" stroke-width="1.6" />
<line x1="502.85" y1="355.02" x2="511.25" y2="355.02" stroke-width="1.7" />
<line x1="534.05" y1="442.34" x2="534.05" y2="434.13" stroke-width="1.6" />
<line x1="529.85" y1="434.13" x2="538.25" y2="434.13" stroke-width="1.7" />
<line x1="561.15" y1="452.88" x2="561.15" y2="441.75" stroke-width="1.6" />
<line x1="556.95" y1="441.75" x2="565.35" y2="441.75" stroke-width="1.7" />
<line x1="588.05" y1="372.6" x2="588.05" y2="367.91" stroke-width="1.6" />
<line x1="583.85" y1="367.91" x2="592.25" y2="367.91" stroke-width="1.7" />
<polyline points="507.3,350.7 507.3,342.5 543.05,342.5 543.05,425.6" stroke="#2a2a2a" stroke-width="1"/>
<polyline points="553.2,425.6 553.2,343.3 588.5,343.3 588.5,353.8" stroke="#2a2a2a" stroke-width="1"/>
<polyline points="522.9,433.7 522.9,425.6 572.6,425.6 572.6,433.7" stroke="#2a2a2a" stroke-width="1"/>
<line x1="503.05" y1="529.4" x2="510.45" y2="529.4" stroke-width="1.45" />
<line x1="506.75" y1="525.95" x2="506.75" y2="532.85" stroke-width="1.45" />
<line x1="530.1" y1="529.4" x2="537.5" y2="529.4" stroke-width="1.45" />
<line x1="533.8" y1="525.95" x2="533.8" y2="532.85" stroke-width="1.45" />
<line x1="557.2" y1="529.4" x2="564.6" y2="529.4" stroke-width="1.45" />
<line x1="560.9" y1="525.95" x2="560.9" y2="532.85" stroke-width="1.45" />
<line x1="584.4" y1="529.4" x2="591.8" y2="529.4" stroke-width="1.45" />
<line x1="588.1" y1="525.95" x2="588.1" y2="532.85" stroke-width="1.45" />
<line x1="504.7" y1="548" x2="508.8" y2="548" stroke-width="1.6" />
<line x1="530.1" y1="546.8" x2="537.5" y2="546.8" stroke-width="1.45" />
<line x1="533.8" y1="543.35" x2="533.8" y2="550.25" stroke-width="1.45" />
<line x1="557.2" y1="546.8" x2="564.6" y2="546.8" stroke-width="1.45" />
<line x1="560.9" y1="543.35" x2="560.9" y2="550.25" stroke-width="1.45" />
<line x1="584.4" y1="546.8" x2="591.8" y2="546.8" stroke-width="1.45" />
<line x1="588.1" y1="543.35" x2="588.1" y2="550.25" stroke-width="1.45" />
<line x1="504.7" y1="564.5" x2="508.8" y2="564.5" stroke-width="1.6" />
<line x1="531.75" y1="564.5" x2="535.85" y2="564.5" stroke-width="1.6" />
<line x1="557.2" y1="563.1" x2="564.6" y2="563.1" stroke-width="1.45" />
<line x1="560.9" y1="559.65" x2="560.9" y2="566.55" stroke-width="1.45" />
<line x1="586.05" y1="564.5" x2="590.15" y2="564.5" stroke-width="1.6" />
<line x1="504.7" y1="581.3" x2="508.8" y2="581.3" stroke-width="1.6" />
<line x1="531.75" y1="581.3" x2="535.85" y2="581.3" stroke-width="1.6" />
<line x1="558.85" y1="581.3" x2="562.95" y2="581.3" stroke-width="1.6" />
<line x1="584.4" y1="580.5" x2="591.8" y2="580.5" stroke-width="1.45" />
<line x1="588.1" y1="577.05" x2="588.1" y2="583.95" stroke-width="1.45" />
</g>
<path d="M522.4,334.3L522.4,331.7M522.4,334.3L524.87,333.5M522.4,334.3L523.93,336.4M522.4,334.3L520.87,336.4M522.4,334.3L519.93,333.5" stroke="#000" stroke-width="0.95" stroke-linecap="round" fill="none"/>
<circle cx="522.4" cy="334.3" r="0.75" fill="#000"/>
<path d="M573.1,334.4L573.1,331.8M573.1,334.4L575.57,333.6M573.1,334.4L574.63,336.5M573.1,334.4L571.57,336.5M573.1,334.4L570.63,333.6" stroke="#000" stroke-width="0.95" stroke-linecap="round" fill="none"/>
<circle cx="573.1" cy="334.4" r="0.75" fill="#000"/>
<g fill="#000" stroke="#000" stroke-width="0.35">
<text transform="translate(474.88,460.39) scale(0.950,1)" font-size="13.86" textLength="7.97" lengthAdjust="spacing" >5</text>
<text transform="translate(467.61,401.79) scale(0.950,1)" font-size="13.66" textLength="15.62" lengthAdjust="spacing" >10</text>
<text transform="translate(467.61,343.19) scale(0.950,1)" font-size="13.66" textLength="15.62" lengthAdjust="spacing" >15</text>
<text transform="translate(428.57,487.14) rotate(-90)" font-size="13.83" textLength="119.43" lengthAdjust="spacing" >Basal Respiration</text>
<text transform="translate(447.92,512.29) rotate(-90)" font-size="14.05" textLength="169.10" lengthAdjust="spacing" >(pmol O<tspan font-size="75%" dy="0.22em">2</tspan><tspan dy="-0.22em">/min/μg protein)</tspan></text>
<text x="459.48" y="535.50" font-size="12.46" textLength="27.80" lengthAdjust="spacing" >GLC</text>
<text x="470.60" y="551.62" font-size="12.65" textLength="16.81" lengthAdjust="spacing" >PA</text>
<text x="431.06" y="567.00" font-size="12.91" textLength="55.47" lengthAdjust="spacing" >Carnitine</text>
<text x="460.27" y="582.80" font-size="12.61" textLength="26.29" lengthAdjust="spacing" >2DG</text>
</g>
</svg>
</body></html>
